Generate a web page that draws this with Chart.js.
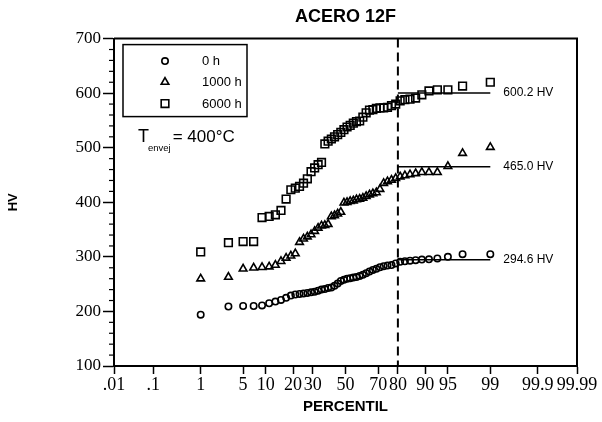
<!DOCTYPE html>
<html>
<head>
<meta charset="utf-8">
<script src="https://cdn.jsdelivr.net/npm/chart.js@4"></script>
<style>
  html, body { margin: 0; padding: 0; background: #fff; }
  canvas { display: block; }
</style>
</head>
<body>
<canvas id="c" width="602" height="422"></canvas>
<script>
// ---------------- data ----------------
const chartTitle = 'ACERO 12F';
const seriesLabels = ['0 h', '1000 h', '6000 h'];
// plotting positions (percentile) of the 50 ranked hardness values
const percentiles = [1,3,5,7,9,11,13,15,17,19,21,23,25,27,29,31,33,35,37,39,41,43,45,47,49,
                     51,53,55,57,59,61,63,65,67,69,71,73,75,77,79,81,83,85,87,89,91,93,95,97,99];
const hv0h = [194,209,210,210,211,215,218,221,225,229,231,232,233,234,235,236,238,240,241,243,
              244,247,251,256,258,260,261,262,263,265,267,270,273,276,278,281,283,284,285,288,
              291,292,293,294,295,295.5,297,300,305,305];
const hv1000h = [260,263,278,280,281,282,285,292,298,302,306,327,333,337,341,347,353,357,358,360,
                 374,376,379,382,399,400,402,403,405,406,408,411,414,416,418,424,435,438,441,444,
                 447,449,451,453,455,455,455,466,490,501];
const hv6000h = [309,326,328,328,372,374,377,385,406,423,426,429,435,443,456,463,469,473,507,512,
                 516,520,524,528,533,538,541,545,548,549,556,564,569,570,572,573,573,574,577,580,
                 586,588,589,591,597,604,606,606,613,620];
const fitValues = [294.6, 465.0, 600.2];     // saturation hardness of each series
const fitRange = [80, 99];                    // percentile range of the fitted plateau
const markerPercentile = 80;                  // dashed vertical line
const xTickPercents = [0.01,0.1,1,5,10,20,30,50,70,80,90,95,99,99.9,99.99];
const xTickLabels = ['.01','.1','1','5','10','20','30','50','70','80','90','95','99','99.9','99.99'];
const yMin = 100, yMax = 700, yStep = 100, yMinorStep = 20;
const tempLabel = { main: 'T', sub: 'envej', rest: '= 400°C' };

// -------------- probability scale transform --------------
function normInv(p) {
  const a=[-3.969683028665376e+01,2.209460984245205e+02,-2.759285104469687e+02,1.383577518672690e+02,-3.066479806614716e+01,2.506628277459239e+00];
  const b=[-5.447609879822406e+01,1.615858368580409e+02,-1.556989798598866e+02,6.680131188771972e+01,-1.328068155288572e+01];
  const c=[-7.784894002430293e-03,-3.223964580411365e-01,-2.400758277161838e+00,-2.549732539343734e+00,4.374664141464968e+00,2.938163982698783e+00];
  const d=[7.784695709041462e-03,3.224671290700398e-01,2.445134137142996e+00,3.754408661907416e+00];
  const pl = 0.02425, ph = 1 - pl;
  let q, r;
  if (p < pl) { q = Math.sqrt(-2*Math.log(p)); return (((((c[0]*q+c[1])*q+c[2])*q+c[3])*q+c[4])*q+c[5])/((((d[0]*q+d[1])*q+d[2])*q+d[3])*q+1); }
  if (p <= ph) { q = p - 0.5; r = q*q; return (((((a[0]*r+a[1])*r+a[2])*r+a[3])*r+a[4])*r+a[5])*q/(((((b[0]*r+b[1])*r+b[2])*r+b[3])*r+b[4])*r+1); }
  q = Math.sqrt(-2*Math.log(1-p)); return -(((((c[0]*q+c[1])*q+c[2])*q+c[3])*q+c[4])*q+c[5])/((((d[0]*q+d[1])*q+d[2])*q+d[3])*q+1);
}
const P = pc => normInv(pc / 100);

// -------------- styles --------------
const SANS = '"Liberation Sans", Arial, Helvetica, sans-serif';
const SERIF = '"Liberation Serif", "Times New Roman", serif';
const markerStyles = [
  { pointStyle: 'circle',   radius: 3.2 },
  { pointStyle: 'triangle', radius: 4.4 },
  { pointStyle: 'rect',     radius: 5.4 }
];
const markerStroke = 1.6;
const seriesValues = [hv0h, hv1000h, hv6000h];

const scatterSets = seriesValues.map((vals, k) => ({
  type: 'scatter',
  label: seriesLabels[k],
  data: percentiles.map((p, i) => ({ x: P(p), y: vals[i] })),
  pointStyle: markerStyles[k].pointStyle,
  pointRadius: markerStyles[k].radius,
  pointBorderWidth: markerStroke,
  pointBorderColor: '#000',
  pointBackgroundColor: 'rgba(255,255,255,0)',
  order: 1
}));
const fitSets = fitValues.map(v => ({
  type: 'line',
  label: 'fit ' + v,
  data: [{ x: P(fitRange[0]), y: v }, { x: P(fitRange[1]), y: v }],
  borderColor: '#000',
  borderWidth: 1.5,
  pointRadius: 0,
  fill: false,
  order: 2
}));

function drawMarker(ctx, style, r, x, y) {
  ctx.beginPath();
  if (style === 'circle') {
    ctx.arc(x, y, r, 0, Math.PI * 2);
  } else if (style === 'triangle') {
    for (let k = 0; k < 3; k++) {
      const ang = -Math.PI / 2 + k * 2 * Math.PI / 3;
      const px = x + r * Math.cos(ang), py = y + r * Math.sin(ang);
      if (k === 0) ctx.moveTo(px, py); else ctx.lineTo(px, py);
    }
    ctx.closePath();
  } else {
    const s = Math.SQRT1_2 * r;
    ctx.rect(x - s, y - s, 2 * s, 2 * s);
  }
  ctx.stroke();
}

const overlay = {
  id: 'overlay',
  afterDraw(chart) {
    const { ctx, chartArea: a, scales: { x, y } } = chart;
    ctx.save();
    ctx.strokeStyle = '#000';
    ctx.fillStyle = '#000';
    // frame top & right
    ctx.lineWidth = 2;
    ctx.beginPath();
    ctx.moveTo(a.left, a.top); ctx.lineTo(a.right, a.top); ctx.lineTo(a.right, a.bottom);
    ctx.stroke();
    // minor y ticks
    ctx.lineWidth = 1.2;
    for (let v = yMin; v <= yMax; v += yMinorStep) {
      if (v % yStep === 0) continue;
      const py = y.getPixelForValue(v);
      ctx.beginPath(); ctx.moveTo(a.left - 5, py); ctx.lineTo(a.left, py); ctx.stroke();
    }
    // dashed vertical marker
    const xd = x.getPixelForValue(P(markerPercentile));
    ctx.lineWidth = 2;
    ctx.setLineDash([9, 5]);
    ctx.beginPath(); ctx.moveTo(xd, a.top); ctx.lineTo(xd, a.bottom); ctx.stroke();
    ctx.setLineDash([]);
    // fit labels
    ctx.font = '12px ' + SANS;
    ctx.textBaseline = 'middle';
    ctx.textAlign = 'left';
    const xe = x.getPixelForValue(P(fitRange[1]));
    fitValues.forEach(v => {
      ctx.fillText(v.toFixed(1) + ' HV', xe + 13, y.getPixelForValue(v));
    });
    // legend box
    const lx = a.left + 9, ly = a.top + 6, lw = 124, lh = 72;
    ctx.lineWidth = 1.5;
    ctx.strokeRect(lx, ly, lw, lh);
    ctx.font = '13px ' + SANS;
    ctx.lineWidth = markerStroke;
    const rows = [16.5, 37.5, 59];
    seriesLabels.forEach((lab, k) => {
      drawMarker(ctx, markerStyles[k].pointStyle, markerStyles[k].radius, lx + 42, ly + rows[k]);
      ctx.fillText(lab, lx + 79, ly + rows[k] + 0.5);
    });
    // temperature annotation
    ctx.textBaseline = 'alphabetic';
    const tx = a.left + 24, ty = a.top + 103;
    ctx.font = '18px ' + SANS;
    ctx.fillText(tempLabel.main, tx, ty);
    const tw = ctx.measureText(tempLabel.main).width;
    ctx.font = '9.5px ' + SANS;
    ctx.fillText(tempLabel.sub, tx + tw - 1, ty + 9);
    const sw = ctx.measureText(tempLabel.sub).width;
    ctx.font = '17px ' + SANS;
    ctx.fillText(tempLabel.rest, tx + tw + sw + 1, ty);
    ctx.restore();
  }
};

new Chart(document.getElementById('c'), {
  data: { datasets: [...fitSets, ...scatterSets] },
  options: {
    responsive: false,
    animation: false,
    events: [],
    layout: { padding: { left: 0, right: 25, top: 0, bottom: 0 } },
    plugins: {
      legend: { display: false },
      tooltip: { enabled: false },
      title: {
        display: true, text: chartTitle, fullSize: false, color: '#000',
        font: { family: SANS, size: 18, weight: 'bold' },
        padding: { top: 6, bottom: 11 }
      }
    },
    scales: {
      x: {
        type: 'linear',
        min: P(xTickPercents[0]),
        max: P(xTickPercents[xTickPercents.length - 1]),
        afterBuildTicks: s => { s.ticks = xTickPercents.map(p => ({ value: P(p) })); },
        ticks: {
          autoSkip: false, maxRotation: 0, minRotation: 0, padding: 0, color: '#000',
          font: { family: SERIF, size: 18 },
          callback: (v, i) => xTickLabels[i]
        },
        grid: { drawOnChartArea: false, drawTicks: true, tickLength: 8, tickColor: '#000', tickWidth: 1.5 },
        border: { display: true, color: '#000', width: 2 },
        title: {
          display: true, text: 'PERCENTIL', color: '#000',
          font: { family: SANS, size: 15, weight: 'bold' },
          padding: { top: 0, bottom: 6 }
        },
        afterFit: s => { s.height = 56; }
      },
      y: {
        type: 'linear', min: yMin, max: yMax,
        ticks: { stepSize: yStep, padding: 2, color: '#000', font: { family: SERIF, size: 17 } },
        grid: { drawOnChartArea: false, drawTicks: true, tickLength: 11, tickColor: '#000', tickWidth: 1.5 },
        border: { display: true, color: '#000', width: 2 },
        title: {
          display: true, text: 'HV', color: '#000',
          font: { family: SANS, size: 13, weight: 'bold' },
          padding: { top: 6, bottom: 0 }
        },
        afterFit: s => { s.width = 114; }
      }
    }
  },
  plugins: [overlay]
});
</script>
</body>
</html>
